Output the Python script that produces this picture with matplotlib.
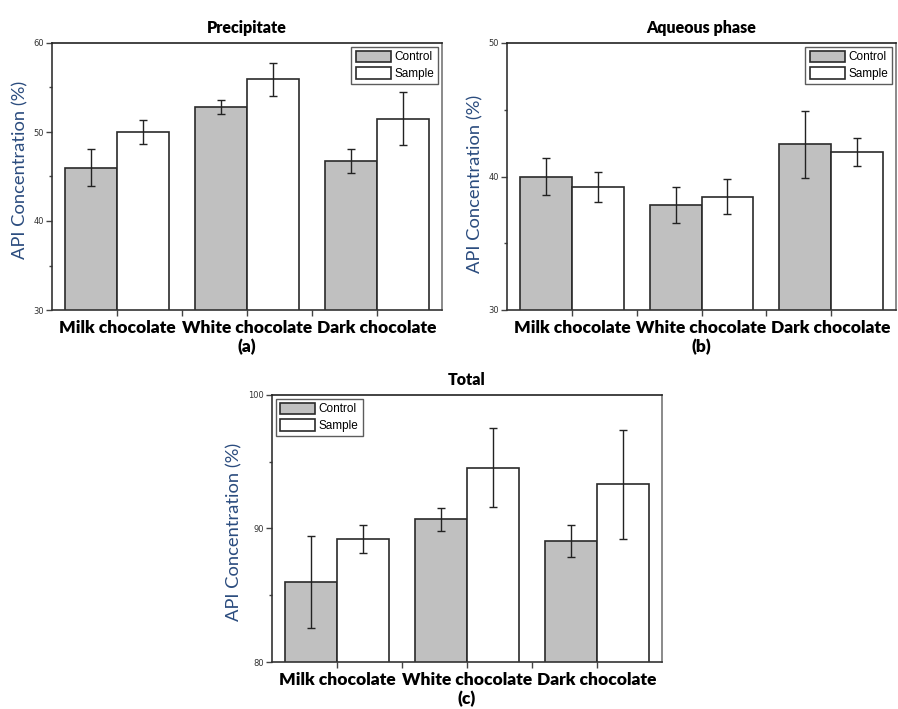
import matplotlib
matplotlib.use("Agg")
import matplotlib.pyplot as plt
import numpy as np
from matplotlib.ticker import MultipleLocator, FixedLocator

categories = ["Milk chocolate", "White chocolate", "Dark chocolate"]

precip_control = [46.0, 52.8, 46.7]
precip_control_err = [2.1, 0.8, 1.35]
precip_sample = [50.0, 55.9, 51.5]
precip_sample_err = [1.3, 1.8, 3.0]

aq_control = [40.0, 37.9, 42.4]
aq_control_err = [1.4, 1.35, 2.5]
aq_sample = [39.2, 38.5, 41.8]
aq_sample_err = [1.1, 1.3, 1.05]

tot_control = [86.0, 90.7, 89.05]
tot_control_err = [3.45, 0.85, 1.2]
tot_sample = [89.2, 94.55, 93.3]
tot_sample_err = [1.05, 2.95, 4.05]

fig = plt.figure(figsize=(8.98, 7.09), dpi=100)

W, H = 898, 709
def ax_at(l, t, r, b):
    return fig.add_axes([l / W, (H - b) / H, (r - l) / W, (b - t) / H])

panels = [
    dict(rect=(52, 43, 442, 310), title="Precipitate", tag="(a)", ylim=(30, 60),
         c=precip_control, ce=precip_control_err, s=precip_sample, se=precip_sample_err,
         legloc="upper right", ylab_x=20, ylab_y=170),
    dict(rect=(507, 43, 896, 310), title="Aqueous phase", tag="(b)", ylim=(30, 50),
         c=aq_control, ce=aq_control_err, s=aq_sample, se=aq_sample_err,
         legloc="upper right", ylab_x=475, ylab_y=184),
    dict(rect=(272, 395, 662, 662), title="Total", tag="(c)", ylim=(80, 100),
         c=tot_control, ce=tot_control_err, s=tot_sample, se=tot_sample_err,
         legloc="upper left", ylab_x=234, ylab_y=532),
]

x = np.arange(1, len(categories) + 1)
bw = 0.4
gray = "#c0c0c0"
edge = "#2a2a2a"

for p in panels:
    l, t, r, b = p["rect"]
    ax = ax_at(l, t, r, b)
    ax.bar(x - bw / 2, p["c"], bw, color=gray, edgecolor=edge, linewidth=1.2,
           label="Control", zorder=2)
    ax.bar(x + bw / 2, p["s"], bw, color="white", edgecolor=edge, linewidth=1.2,
           label="Sample", zorder=2)
    ax.errorbar(x - bw / 2, p["c"], yerr=p["ce"], fmt="none", ecolor="#222222",
                elinewidth=1.0, capsize=3, capthick=1.0, zorder=3)
    ax.errorbar(x + bw / 2, p["s"], yerr=p["se"], fmt="none", ecolor="#222222",
                elinewidth=1.0, capsize=3, capthick=1.0, zorder=3)
    ax.set_xlim(0.5, 3.5)
    ax.set_ylim(*p["ylim"])
    ax.yaxis.set_major_locator(MultipleLocator(10))
    ax.yaxis.set_minor_locator(MultipleLocator(5))
    ax.set_xticks(x)
    ax.xaxis.set_minor_locator(FixedLocator([1.5, 2.5]))
    ax.set_xticklabels(categories, fontfamily="Lato", fontweight="heavy", fontsize=12.5,
                       color="black")
    ax.tick_params(axis="x", which="both", direction="out", length=4, width=1,
                   color="#444444", pad=3)
    ax.tick_params(axis="y", which="major", direction="out", length=4, width=1,
                   color="#444444", labelsize=6, labelcolor="#333333", pad=2)
    ax.tick_params(axis="y", which="minor", direction="out", length=2.5, width=1,
                   color="#444444")
    for side in ["left", "bottom"]:
        ax.spines[side].set_color("#333333")
        ax.spines[side].set_linewidth(1.2)
    ax.spines["top"].set_color("#222222")
    ax.spines["right"].set_color("#777777")
    ax.spines["top"].set_linewidth(1.2)
    ax.spines["right"].set_linewidth(1.2)
    ax.set_title(p["title"], fontfamily="Lato", fontweight="heavy", fontsize=11.5, pad=7)
    fig.text(p["ylab_x"] / W, (H - p["ylab_y"]) / H, "API Concentration (%)",
             rotation=90, ha="center", va="center", fontfamily="Lato", fontsize=13.2,
             color="#2b4c7e")
    fig.text(((l + r) / 2) / W, (H - (b + 37)) / H, p["tag"], ha="center", va="center",
             fontfamily="Lato", fontweight="heavy", fontsize=12.5)
    leg = ax.legend(loc=p["legloc"], frameon=True, fancybox=False,
                    handlelength=3.0, handleheight=1.1, borderpad=0.35, labelspacing=0.35,
                    handletextpad=0.3, borderaxespad=0.3,
                    prop={"family": "Liberation Sans", "size": 8.5})
    leg.get_frame().set_edgecolor("#333333")
    leg.get_frame().set_linewidth(1.0)

fig.savefig("out.png", dpi=100)
